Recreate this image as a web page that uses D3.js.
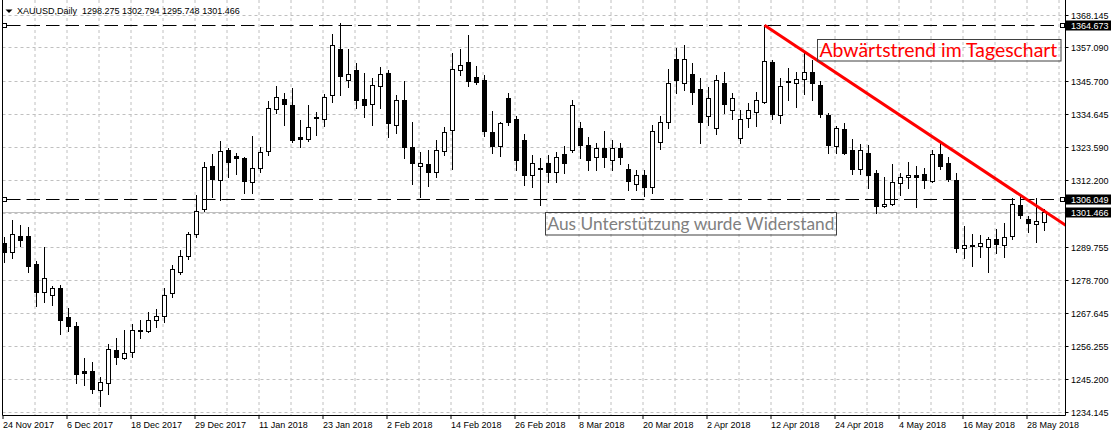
<!DOCTYPE html>
<html><head><meta charset="utf-8">
<script src="https://cdn.jsdelivr.net/npm/d3@7"></script>
<style>html,body{margin:0;padding:0;background:#fff;overflow:hidden}</style>
</head><body><svg id="c" width="1113" height="436"></svg>
<script>
// ---------- DATA ----------
const titleText = "XAUUSD,Daily  1298.275 1302.794 1295.748 1301.466";
const dateLabels = ["24 Nov 2017","6 Dec 2017","18 Dec 2017","29 Dec 2017","11 Jan 2018","23 Jan 2018","2 Feb 2018","14 Feb 2018","26 Feb 2018","8 Mar 2018","20 Mar 2018","2 Apr 2018","12 Apr 2018","24 Apr 2018","4 May 2018","16 May 2018","28 May 2018"];
const priceTicks = [1368.145,1357.090,1345.700,1334.645,1323.590,1312.200,1301.145,1289.755,1278.700,1267.645,1256.255,1245.200,1234.145];
const openP = [1291.2,1288.1,1293.6,1293.6,1283.9,1274.5,1273.5,1275.8,1266.3,1263.3,1247.8,1247.8,1241.7,1244.0,1254.9,1252.2,1254.4,1261.9,1261.5,1265.3,1266.6,1274.3,1281.4,1286.8,1294.2,1302.6,1317.2,1312.4,1322.6,1320.3,1319.8,1311.6,1316.5,1322.2,1336.4,1339.7,1337.5,1326.7,1326.2,1333.2,1333.0,1341.1,1356.6,1346.1,1349.3,1339.8,1338.0,1344.0,1348.3,1330.8,1339.3,1323.5,1317.0,1317.9,1315.1,1322.1,1329.1,1349.4,1352.2,1347.2,1345.9,1328.6,
1323.8,1340.0,1333.0,1326.0,1314.0,1316.0,1318.0,1315.0,1321.0,1322.6,1330.0,1324.0,1320.0,1323.0,1319.0,1323.0,1316.0,1311.0,1314.0,1310.0,1325.0,1332.0,1353.0,1345.0,1348.0,1343.0,1334.0,1330.0,1345.0,1336.0,1326.6,
1333.1,1335.3,1338.7,1352.2,1334.4,1345.3,1345.1,1346.5,1348.7,1344.5,1334.1,1323.8,1329.6,1322.6,1316.2,1321.5,1314.8,1303.5,1304.3,1311.4,1313.3,1313.9,1314.5,1312.0,1321.0,1318.2,1312.5,1289.4,1290.5,1290.0,1289.8,1292.6,1290.5,1293.4,1304.0,1299.3,1297.6,1298.275];
const highP = [1293.4,1299.0,1297.4,1296.6,1285.3,1290.1,1276.9,1277.1,1269.3,1264.6,1252.4,1251.3,1246.2,1257.2,1259.2,1262.0,1263.9,1265.3,1267.9,1268.9,1276.0,1283.8,1288.9,1295.1,1307.5,1318.7,1321.3,1325.8,1323.4,1321.7,1320.4,1327.4,1323.8,1339.2,1344.2,1341.8,1343.4,1332.7,1337.8,1335.6,1341.5,1361.7,1365.4,1356.6,1351.9,1348.5,1346.8,1350.5,1349.6,1341.2,1345.9,1332.2,1322.1,1322.6,1326.0,1330.5,1355.2,1356.7,1361.4,1351.0,1347.9,1335.9,
1332.2,1342.0,1334.0,1328.0,1321.0,1320.0,1321.0,1322.0,1324.0,1339.5,1332.0,1327.0,1325.0,1329.0,1326.0,1325.0,1318.0,1316.0,1316.0,1331.0,1334.0,1350.0,1357.0,1358.0,1352.0,1347.0,1344.0,1348.0,1349.0,1342.0,1336.0,
1338.4,1342.3,1364.673,1353.0,1346.8,1350.2,1349.0,1355.2,1353.0,1345.9,1335.0,1330.7,1331.6,1326.3,1324.7,1324.3,1315.9,1313.6,1317.9,1315.0,1318.5,1317.2,1316.5,1322.6,1324.9,1320.4,1314.8,1297.0,1294.3,1294.0,1293.2,1295.9,1297.9,1306.4,1307.5,1300.4,1306.4,1302.794];
const lowP = [1285.0,1286.3,1290.3,1281.6,1270.1,1271.5,1270.4,1260.6,1261.6,1244.0,1243.4,1240.8,1236.3,1240.3,1250.4,1252.2,1252.8,1259.2,1261.3,1262.9,1264.7,1273.2,1280.8,1285.9,1293.4,1302.1,1306.9,1305.8,1313.4,1314.4,1308.2,1308.0,1315.3,1321.0,1335.2,1331.2,1325.5,1323.8,1325.8,1327.7,1330.7,1338.9,1341.2,1344.0,1336.9,1333.9,1331.1,1336.7,1326.9,1328.5,1319.8,1311.1,1306.7,1310.6,1313.6,1321.0,1316.2,1347.9,1344.3,1344.9,1327.4,1321.7,
1320.5,1331.0,1316.0,1311.0,1310.0,1304.0,1312.0,1312.0,1315.0,1322.0,1320.0,1316.0,1316.0,1317.0,1316.0,1318.0,1309.0,1309.0,1307.0,1308.0,1323.0,1330.0,1342.0,1343.0,1338.0,1325.0,1331.0,1328.0,1335.0,1333.0,1325.0,
1330.5,1330.7,1338.4,1333.1,1331.8,1339.5,1337.0,1341.5,1339.5,1333.7,1321.7,1321.5,1321.3,1314.5,1314.5,1309.9,1301.3,1303.3,1304.0,1307.5,1309.9,1303.5,1309.7,1311.7,1316.2,1312.3,1288.4,1286.1,1283.5,1286.7,1281.6,1287.8,1286.5,1292.5,1299.6,1295.1,1291.7,1295.748];
const closeP = [1288.0,1294.2,1292.1,1283.3,1274.5,1279.4,1276.0,1265.1,1263.1,1246.9,1247.4,1242.0,1244.4,1255.5,1252.8,1254.2,1261.9,1261.4,1265.2,1266.6,1273.5,1282.4,1286.7,1294.2,1302.0,1316.9,1312.8,1322.2,1318.4,1319.8,1312.0,1316.5,1321.9,1336.7,1340.4,1337.9,1325.8,1326.2,1330.3,1333.7,1340.4,1357.9,1347.4,1348.2,1339.3,1337.6,1344.5,1348.2,1331.5,1339.2,1323.4,1318.2,1318.2,1315.0,1322.3,1328.6,1349.8,1351.0,1345.7,1345.5,1328.8,1323.8,
1331.6,1332.0,1319.0,1314.0,1318.0,1316.5,1315.0,1320.0,1318.0,1337.8,1324.0,1319.0,1323.0,1320.0,1323.0,1320.0,1312.0,1314.0,1310.0,1329.0,1332.0,1345.0,1346.0,1353.0,1342.0,1332.0,1340.0,1346.0,1338.0,1340.0,1333.0,
1335.8,1339.2,1352.6,1334.7,1344.0,1345.7,1346.5,1348.8,1345.1,1334.7,1324.1,1330.0,1321.5,1316.2,1322.3,1314.0,1303.5,1304.3,1311.8,1313.4,1314.1,1313.4,1312.3,1321.0,1317.0,1312.8,1289.3,1290.5,1290.0,1291.2,1292.6,1290.8,1293.2,1304.3,1300.7,1297.7,1298.7,1301.466];
const hLinePrices = [1364.673, 1306.049];
const lastPrice = 1301.466;
const trendBars = [95, 130];
const trendPrices = [1364.673, 1302.0];
const noteTexts = ["Abwärtstrend im Tageschart", "Aus Unterstützung wurde Widerstand"];

// ---------- LAYOUT ----------
const W = 1113, H = 436;
const plotL = 2.5, plotR = 1065.5, plotB = 415.5, plotT = 0;
const FONT = "'Liberation Sans', Arial, sans-serif";
const svg = d3.select("#c");
svg.append("rect").attr("width", W).attr("height", H).attr("fill", "#fff");

const n = openP.length;
const x = d3.scaleLinear().domain([0, n - 1]).range([4.5, 4.5 + 8 * (n - 1)]);
const y = d3.scaleLinear().domain([1234.145, 1368.145]).range([412.5, 15]);
const snap = v => Math.round(v - 0.5) + 0.5;

// grid
const grid = svg.append("g").attr("stroke", "#c0c0c0").attr("stroke-width", 1).attr("stroke-dasharray", "3,3");
for (let k = 1; ; k++) {
  const gx = x(4 * k) - 1.5;
  if (gx >= plotR - 2) break;
  grid.append("line").attr("x1", gx).attr("x2", gx).attr("y1", plotT).attr("y2", plotB);
}
priceTicks.forEach(t => {
  const gy = snap(y(t));
  grid.append("line").attr("x1", plotL).attr("x2", plotR).attr("y1", gy).attr("y2", gy);
});

// last price line
svg.append("line").attr("x1", plotL).attr("x2", plotR)
  .attr("y1", snap(y(lastPrice))).attr("y2", snap(y(lastPrice)))
  .attr("stroke", "#c0c0c0").attr("stroke-width", 1);

// candles
const cg = svg.append("g");
for (let i = 0; i < n; i++) {
  const cx = x(i);
  const o = openP[i], c = closeP[i];
  cg.append("line").attr("x1", cx).attr("x2", cx)
    .attr("y1", Math.round(y(highP[i]))).attr("y2", Math.round(y(lowP[i])) + 1)
    .attr("stroke", "#000").attr("stroke-width", 1);
  const top = snap(y(Math.max(o, c))), bot = snap(y(Math.min(o, c)));
  if (bot - top < 1) {
    cg.append("line").attr("x1", cx - 2.5).attr("x2", cx + 2.5).attr("y1", top).attr("y2", top)
      .attr("stroke", "#000").attr("stroke-width", 1);
  } else {
    cg.append("rect").attr("x", cx - 2).attr("y", top).attr("width", 4).attr("height", bot - top)
      .attr("fill", c >= o ? "#fff" : "#000").attr("stroke", "#000").attr("stroke-width", 1);
  }
}

// horizontal dashed lines
hLinePrices.forEach(p => {
  const hy = snap(y(p));
  svg.append("line").attr("x1", 7).attr("x2", 1060).attr("y1", hy).attr("y2", hy)
    .attr("stroke", "#000").attr("stroke-width", 1).attr("stroke-dasharray", "13.5,6");
  [2.5, 1060.5].forEach(sx => svg.append("rect").attr("x", sx).attr("y", hy - 2).attr("width", 4).attr("height", 4)
    .attr("fill", "#fff").attr("stroke", "#000").attr("stroke-width", 1));
});

// trend line (ray to right edge)
svg.append("clipPath").attr("id", "pc").append("rect")
  .attr("x", plotL).attr("y", plotT).attr("width", plotR - plotL).attr("height", plotB - plotT);
const slope = (trendPrices[1] - trendPrices[0]) / (trendBars[1] - trendBars[0]);
const barEnd = x.invert(plotR + 2);
svg.append("line").attr("clip-path", "url(#pc)")
  .attr("x1", x(trendBars[0])).attr("y1", y(trendPrices[0]))
  .attr("x2", x(barEnd)).attr("y2", y(trendPrices[0] + slope * (barEnd - trendBars[0])))
  .attr("stroke", "#ff0000").attr("stroke-width", 3);

// annotations: font size fitted so the natural text width matches the box
function note(txt, bx, by, bw, bh, tx, ty, fs, target, col) {
  svg.append("rect").attr("x", bx).attr("y", by).attr("width", bw).attr("height", bh)
    .attr("fill", "none").attr("stroke", "#404040").attr("stroke-width", 1);
  const t = svg.append("text").attr("x", tx).attr("y", ty)
    .attr("font-family", "Lato, 'Open Sans', sans-serif")
    .attr("font-size", fs).attr("fill", col).text(txt);
  const len = t.node().getComputedTextLength();
  if (len > 0) t.attr("font-size", (fs * target / len).toFixed(2));
}
note(noteTexts[0], 817.5, 39.5, 243.5, 21.5, 819.5, 56.5, 19.5, 238, "#ff0000");
note(noteTexts[1], 545.5, 212.5, 291, 22.5, 547.5, 229.5, 17, 287, "#808080");

// axes frame
svg.append("line").attr("x1", plotL).attr("x2", plotL).attr("y1", plotT).attr("y2", plotB).attr("stroke", "#000");
svg.append("line").attr("x1", plotR).attr("x2", plotR).attr("y1", plotT).attr("y2", plotB).attr("stroke", "#000");
svg.append("line").attr("x1", plotL).attr("x2", plotR).attr("y1", plotB).attr("y2", plotB).attr("stroke", "#000");

// price axis
priceTicks.forEach(t => {
  const ty = snap(y(t));
  svg.append("line").attr("x1", plotR).attr("x2", plotR + 3).attr("y1", ty).attr("y2", ty).attr("stroke", "#000");
  svg.append("text").attr("x", 1071).attr("y", ty + 3.5).attr("font-family", FONT).attr("font-size", 9)
    .attr("fill", "#000").text(t.toFixed(3));
});
[...hLinePrices, lastPrice].forEach(p => {
  const py = snap(y(p));
  svg.append("rect").attr("x", 1066).attr("y", py - 5).attr("width", 45).attr("height", 10).attr("fill", "#000");
  svg.append("text").attr("x", 1071).attr("y", py + 3.5).attr("font-family", FONT).attr("font-size", 9)
    .attr("fill", "#fff").text(p.toFixed(3));
});

// time axis
dateLabels.forEach((lab, k) => {
  const tx = x(8 * k) - 1.5;
  svg.append("line").attr("x1", tx).attr("x2", tx).attr("y1", plotB).attr("y2", plotB + 3.5).attr("stroke", "#000");
  svg.append("text").attr("x", tx).attr("y", 427.5).attr("font-family", FONT).attr("font-size", 9)
    .attr("fill", "#000").text(lab);
});

// title
svg.append("path").attr("d", "M5.5,9.5 L12.5,9.5 L9,13 Z").attr("fill", "#000");
svg.append("text").attr("x", 17).attr("y", 13.5).attr("font-family", FONT).attr("font-size", 9)
  .attr("fill", "#000").style("white-space", "pre").text(titleText);
</script></body></html>
